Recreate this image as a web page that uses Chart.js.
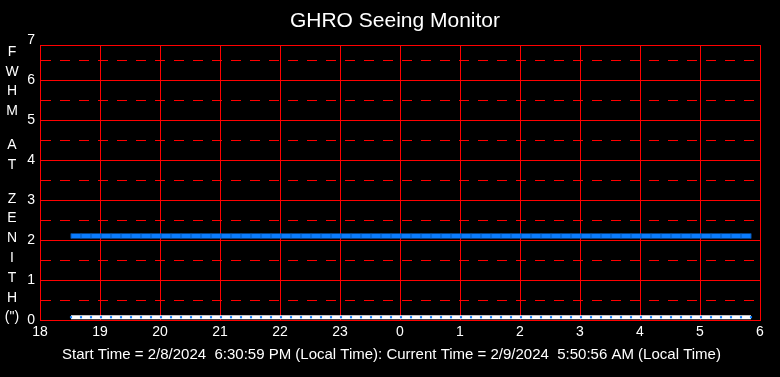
<!DOCTYPE html>
<html>
<head>
<meta charset="utf-8">
<script src="https://cdn.jsdelivr.net/npm/chart.js@4/dist/chart.umd.min.js"></script>
<style>
  html, body { margin: 0; padding: 0; background: #000; }
  canvas { display: block; }
</style>
</head>
<body>
<canvas id="seeingChart" width="780" height="377"></canvas>
<script>
const chartTitle = 'GHRO Seeing Monitor';
const yTitleLines = ['F', 'W', 'H', 'M', '', 'A', 'T', '', 'Z', 'E', 'N', 'I', 'T', 'H', '(")'];
const footerText = 'Start Time = 2/8/2024  6:30:59 PM (Local Time): Current Time = 2/9/2024  5:50:56 AM (Local Time)';

// sample times (local, 10 min apart)
const sampleTimes = [
  '18:31', '18:41', '18:51',
  '19:01', '19:11', '19:21', '19:31', '19:41', '19:51',
  '20:01', '20:11', '20:21', '20:31', '20:41', '20:51',
  '21:01', '21:11', '21:21', '21:31', '21:41', '21:51',
  '22:01', '22:11', '22:21', '22:31', '22:41', '22:51',
  '23:01', '23:11', '23:21', '23:31', '23:41', '23:51',
  '00:01', '00:11', '00:21', '00:31', '00:41', '00:51',
  '01:01', '01:11', '01:21', '01:31', '01:41', '01:51',
  '02:01', '02:11', '02:21', '02:31', '02:41', '02:51',
  '03:01', '03:11', '03:21', '03:31', '03:41', '03:51',
  '04:01', '04:11', '04:21', '04:31', '04:41', '04:51',
  '05:01', '05:11', '05:21', '05:31', '05:41', '05:51'
];

// FWHM at zenith (arcsec)
const fwhmValues = [
  2.1, 2.1, 2.1,
  2.1, 2.1, 2.1, 2.1, 2.1, 2.1,
  2.1, 2.1, 2.1, 2.1, 2.1, 2.1,
  2.1, 2.1, 2.1, 2.1, 2.1, 2.1,
  2.1, 2.1, 2.1, 2.1, 2.1, 2.1,
  2.1, 2.1, 2.1, 2.1, 2.1, 2.1,
  2.1, 2.1, 2.1, 2.1, 2.1, 2.1,
  2.1, 2.1, 2.1, 2.1, 2.1, 2.1,
  2.1, 2.1, 2.1, 2.1, 2.1, 2.1,
  2.1, 2.1, 2.1, 2.1, 2.1, 2.1,
  2.1, 2.1, 2.1, 2.1, 2.1, 2.1,
  2.1, 2.1, 2.1, 2.1, 2.1, 2.1
];

// second (white) trace sitting on the floor
const floorValues = [
  0.07, 0.07, 0.07,
  0.07, 0.07, 0.07, 0.07, 0.07, 0.07,
  0.07, 0.07, 0.07, 0.07, 0.07, 0.07,
  0.07, 0.07, 0.07, 0.07, 0.07, 0.07,
  0.07, 0.07, 0.07, 0.07, 0.07, 0.07,
  0.07, 0.07, 0.07, 0.07, 0.07, 0.07,
  0.07, 0.07, 0.07, 0.07, 0.07, 0.07,
  0.07, 0.07, 0.07, 0.07, 0.07, 0.07,
  0.07, 0.07, 0.07, 0.07, 0.07, 0.07,
  0.07, 0.07, 0.07, 0.07, 0.07, 0.07,
  0.07, 0.07, 0.07, 0.07, 0.07, 0.07,
  0.07, 0.07, 0.07, 0.07, 0.07, 0.07
];

const yTickValues = [0, 0.5, 1, 1.5, 2, 2.5, 3, 3.5, 4, 4.5, 5, 5.5, 6, 6.5, 7];

// hours after midnight, continued past 24 so the night is one run
function toHours(t) {
  const parts = t.split(':');
  let h = Number(parts[0]) + Number(parts[1]) / 60;
  if (h < 12) h += 24;
  return h;
}

const RED = '#ff0000';
const BLUE = '#0a7cff';

const textPlugin = {
  id: 'seeingText',
  afterDraw(chart) {
    const ctx = chart.ctx;
    ctx.save();
    ctx.fillStyle = '#fff';
    ctx.textBaseline = 'middle';

    ctx.font = '21px "Liberation Sans", Arial, sans-serif';
    ctx.textAlign = 'center';
    ctx.fillText(chartTitle, 395, 21);

    ctx.font = '14px "Liberation Sans", Arial, sans-serif';
    let y = 52;
    yTitleLines.forEach(function (s) {
      if (s === '') { y += 14; return; }
      ctx.fillText(s, 12, y);
      y += 19.8;
    });

    ctx.font = '15px "Liberation Sans", Arial, sans-serif';
    ctx.textAlign = 'left';
    ctx.fillText(footerText, 62, 355, 661);
    ctx.restore();
  }
};

const chartCtx = document.getElementById('seeingChart').getContext('2d');
new Chart(chartCtx, {
  type: 'line',
  data: {
    datasets: [
      {
        label: 'FWHM',
        data: sampleTimes.map((t, i) => ({ x: toHours(t), y: fwhmValues[i] })),
        borderColor: BLUE,
        borderWidth: 5,
        pointStyle: 'line',
        rotation: 90,
        pointRadius: 2.5,
        pointBorderColor: '#0757b5',
        pointBorderWidth: 1,
        tension: 0
      },
      {
        label: 'floor',
        data: sampleTimes.map((t, i) => ({ x: toHours(t), y: floorValues[i] })),
        borderColor: '#fff',
        borderWidth: 4,
        pointStyle: 'rect',
        pointRadius: 1.5,
        pointBackgroundColor: BLUE,
        pointBorderWidth: 0,
        tension: 0
      }
    ]
  },
  options: {
    responsive: false,
    devicePixelRatio: 1,
    animation: false,
    layout: { padding: { top: 45, right: 20, left: 0, bottom: 0 } },
    plugins: {
      legend: { display: false },
      tooltip: { enabled: false }
    },
    scales: {
      x: {
        type: 'linear',
        min: 18,
        max: 30,
        afterFit: s => { s.height = 57; },
        grid: { color: RED, lineWidth: 1, drawTicks: false },
        border: { color: RED, width: 1 },
        ticks: {
          stepSize: 1,
          color: '#fff',
          padding: 4,
          maxRotation: 0,
          autoSkip: false,
          font: { family: '"Liberation Sans", Arial, sans-serif', size: 14 },
          callback: v => v % 24
        }
      },
      xTop: {
        type: 'linear',
        position: 'top',
        min: 18,
        max: 30,
        afterFit: s => { s.height = 0; },
        grid: { display: false },
        ticks: { display: false },
        border: { color: RED, width: 1 }
      },
      y: {
        min: 0,
        // frame top sits a little under 7; tiny nudge keeps grid rows from rounding down
        max: 6.875000001,
        afterFit: s => { s.width = 40; },
        afterBuildTicks: s => { s.ticks = yTickValues.map(v => ({ value: v })); },
        grid: {
          lineWidth: 1,
          drawTicks: false,
          color: c => (c.tick && c.tick.value > 6.9) ? 'rgba(0,0,0,0)' : RED
        },
        border: {
          color: RED,
          width: 1,
          dash: c => (c.tick && c.tick.value % 1 !== 0) ? [10, 9] : []
        },
        ticks: {
          color: '#fff',
          padding: 5,
          autoSkip: false,
          font: { family: '"Liberation Sans", Arial, sans-serif', size: 14 },
          callback: v => (v % 1 === 0 ? v : '')
        }
      }
    }
  },
  plugins: [textPlugin]
});
</script>
</body>
</html>
